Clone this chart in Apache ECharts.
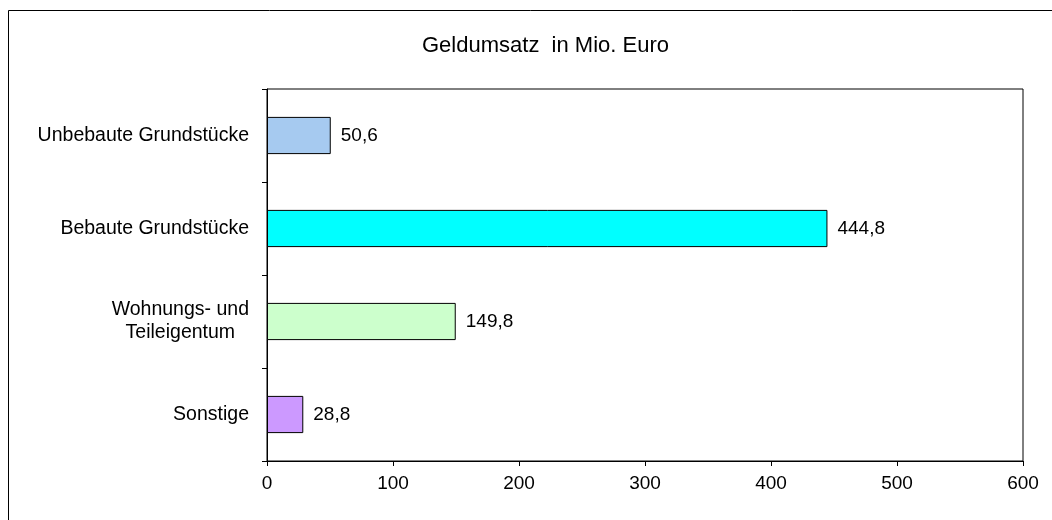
<!DOCTYPE html>
<html>
<head>
<meta charset="utf-8">
<script src="https://cdn.jsdelivr.net/npm/echarts@6/dist/echarts.min.js"></script>
<style>
  html, body { margin: 0; padding: 0; background: #fff; }
  #chart { width: 1052px; height: 520px; }
</style>
</head>
<body>
<div id="chart"></div>
<script>
// Geldumsatz nach Teilmärkten
const categories = ['Unbebaute Grundstücke', 'Bebaute Grundstücke', 'Wohnungs- und\nTeileigentum', 'Sonstige']
const values = [50.6, 444.8, 149.8, 28.8]
const barColors = ['#A6CAF0', '#00FFFF', '#CCFFCC', '#CC99FF']
const xTicks = [0, 100, 200, 300, 400, 500, 600]

const font = 'Liberation Sans, Arial, sans-serif'

let chart = echarts.init(document.getElementById('chart'))
let option = {
  animation: false,
  title: {
    text: 'Geldumsatz  in Mio. Euro',
    left: 417,
    top: 30,
    textStyle: { fontFamily: font, fontSize: 22, fontWeight: 'normal', color: '#000' }
  },
  graphic: [{
    type: 'rect',
    shape: { x: 8.5, y: 10.5, width: 1100, height: 600 },
    style: { fill: 'none', stroke: '#000', lineWidth: 1 },
    silent: true
  }],
  grid: {
    left: 267,
    right: 29,
    top: 89,
    bottom: 59,
    show: true,
    borderColor: '#000',
    borderWidth: 1,
    backgroundColor: 'transparent'
  },
  xAxis: {
    type: 'value',
    min: xTicks[0],
    max: xTicks[xTicks.length - 1],
    interval: 100,
    splitLine: { show: false },
    axisLine: { show: true, lineStyle: { color: '#000', width: 1 } },
    axisTick: { show: true, length: 5, lineStyle: { color: '#000' } },
    axisLabel: { margin: 13, fontFamily: font, fontSize: 19, color: '#000' }
  },
  yAxis: {
    type: 'category',
    inverse: true,
    data: categories,
    axisLine: { show: true, lineStyle: { color: '#000', width: 1 } },
    axisTick: { show: true, length: 5, lineStyle: { color: '#000' } },
    axisLabel: {
      margin: 18,
      fontFamily: font,
      fontSize: 19.5,
      color: '#000',
      lineHeight: 23,
      formatter: function (v) {
        return v.split('\n').map(s => '{c|' + s + '}').join('\n')
      },
      rich: {
        c: { align: 'center', fontFamily: font, fontSize: 19.5, color: '#000', lineHeight: 23 }
      }
    }
  },
  series: [{
    type: 'bar',
    data: values.map((v, i) => ({ value: v, itemStyle: { color: barColors[i] } })),
    barCategoryGap: '60%',
    itemStyle: { borderColor: '#000', borderWidth: 1 },
    label: {
      show: true,
      position: 'right',
      distance: 10,
      fontFamily: font,
      fontSize: 19,
      color: '#000',
      formatter: p => String(p.value.toFixed(1)).replace('.', ',')
    }
  }]
}
chart.setOption(option)
</script>
</body>
</html>
